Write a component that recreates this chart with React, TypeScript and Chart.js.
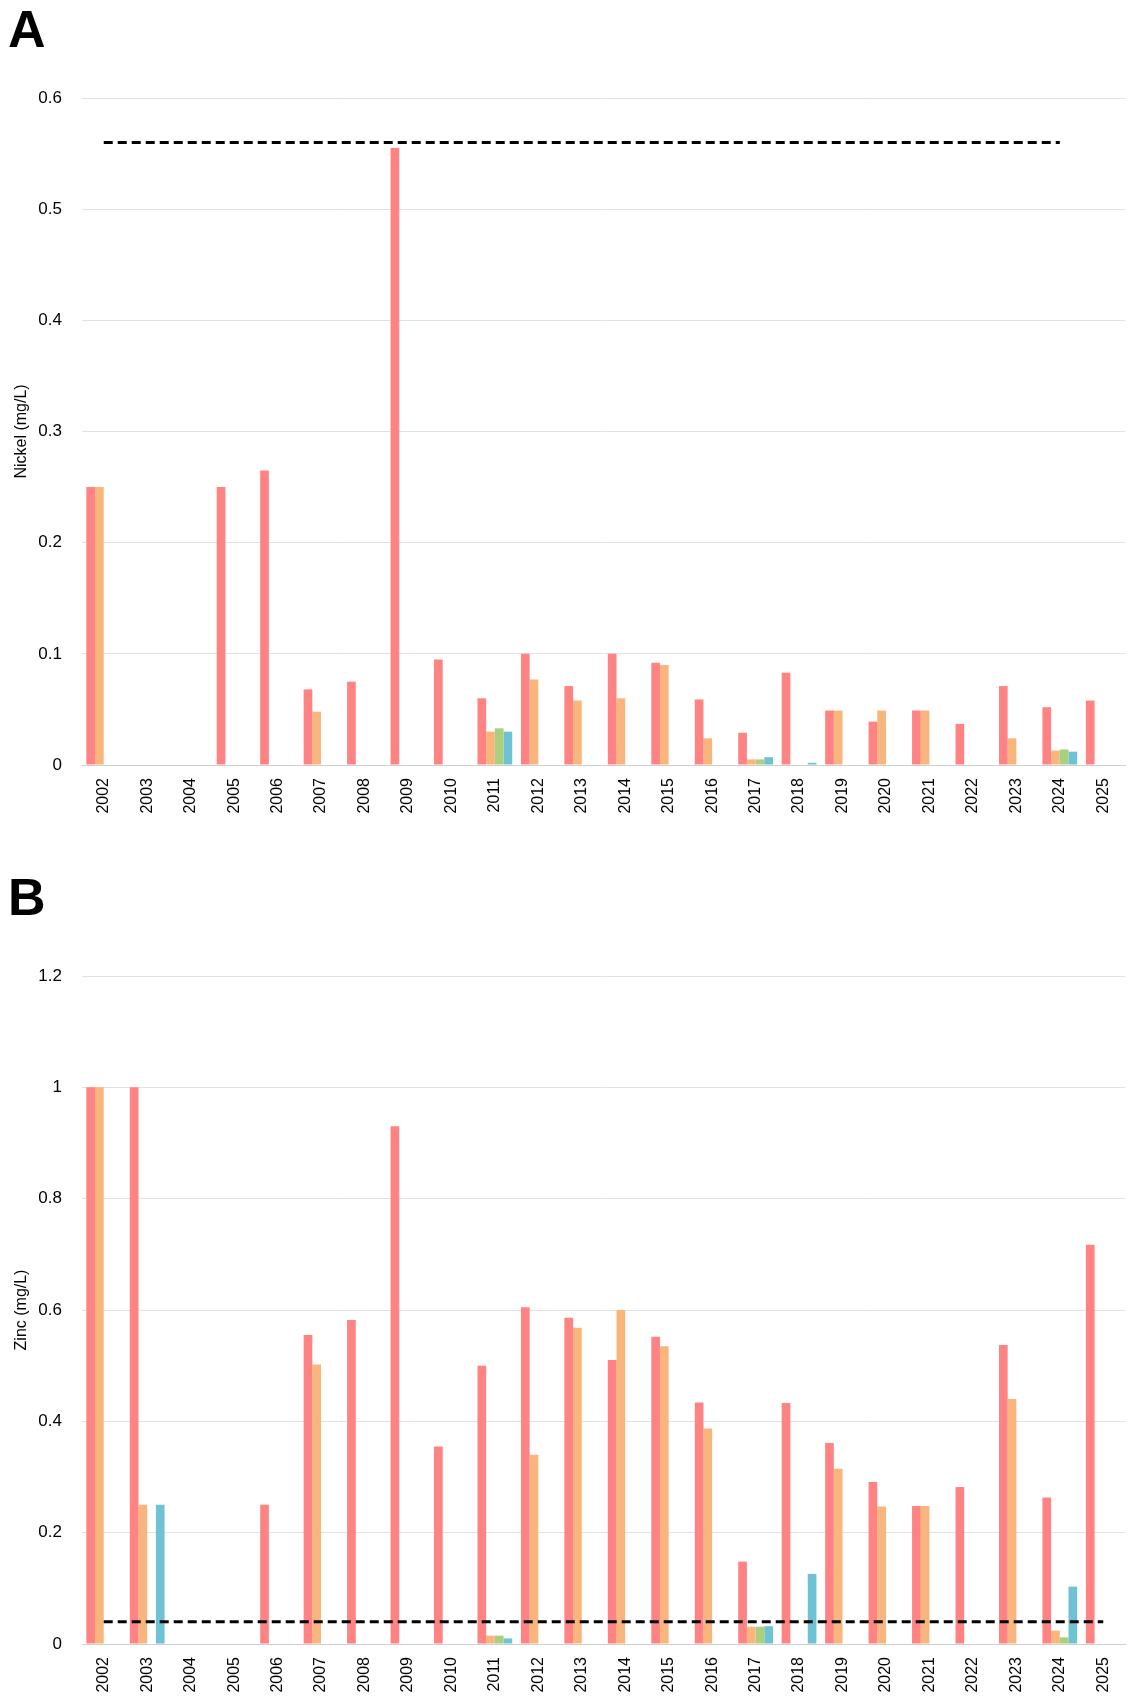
import React, { useEffect, useRef } from "react";
import { Chart, registerables } from "chart.js";

Chart.register(...registerables);

const years = [
  "2002", "2003", "2004", "2005", "2006", "2007", "2008", "2009", "2010", "2011", "2012", "2013",
  "2014", "2015", "2016", "2017", "2018", "2019", "2020", "2021", "2022", "2023", "2024", "2025",
];

// Panel A — Nickel (mg/L)
const nickelRed = [0.25, null, null, 0.25, 0.265, 0.068, 0.075, 0.555, 0.095, 0.06, 0.1, 0.071, 0.1, 0.092, 0.059, 0.029, 0.083, 0.049, 0.039, 0.049, 0.037, 0.071, 0.052, 0.058];
const nickelOrange = [0.25, null, null, null, null, 0.048, null, null, null, 0.03, 0.077, 0.058, 0.06, 0.09, 0.024, 0.005, null, 0.049, 0.049, 0.049, null, 0.024, 0.013, null];
const nickelGreen = [null, null, null, null, null, null, null, null, null, 0.033, null, null, null, null, null, 0.005, null, null, null, null, null, null, 0.014, null];
const nickelBlue = [null, null, null, null, null, null, null, null, null, 0.03, null, null, null, null, null, 0.007, 0.002, null, null, null, null, null, 0.012, null];
const nickelLimit = [0.56, 0.56, 0.56, 0.56, 0.56, 0.56, 0.56, 0.56, 0.56, 0.56, 0.56, 0.56, 0.56, 0.56, 0.56, 0.56, 0.56, 0.56, 0.56, 0.56, 0.56, 0.56, 0.56, null];

// Panel B — Zinc (mg/L)
const zincRed = [1.0, 1.0, null, null, 0.25, 0.555, 0.582, 0.93, 0.355, 0.5, 0.605, 0.586, 0.51, 0.552, 0.434, 0.148, 0.433, 0.361, 0.291, 0.248, 0.282, 0.537, 0.263, 0.717];
const zincOrange = [1.0, 0.25, null, null, null, 0.502, null, null, null, 0.015, 0.34, 0.568, 0.6, 0.535, 0.387, 0.031, null, 0.315, 0.247, 0.248, null, 0.44, 0.024, null];
const zincGreen = [null, null, null, null, null, null, null, null, null, 0.015, null, null, null, null, null, 0.031, null, null, null, null, null, null, 0.012, null];
const zincBlue = [null, 0.25, null, null, null, null, null, null, null, 0.01, null, null, null, null, null, 0.032, 0.126, null, null, null, null, null, 0.103, null];
const zincLimit = [0.04, 0.04, 0.04, 0.04, 0.04, 0.04, 0.04, 0.04, 0.04, 0.04, 0.04, 0.04, 0.04, 0.04, 0.04, 0.04, 0.04, 0.04, 0.04, 0.04, 0.04, 0.04, 0.04, 0.04];

const COLORS = ["#FF8383", "#F8B67C", "#A9D07F", "#6EC2D4"];
const FONT = "'Liberation Sans', Arial, Helvetica, sans-serif";

type PanelProps = {
  height: number;
  padTop: number;
  xHeight: number;
  yMax: number;
  yStep: number;
  yTitle: string;
  series: (number | null)[][];
  limit: (number | null)[];
};

function Panel({ height, padTop, xHeight, yMax, yStep, yTitle, series, limit }: PanelProps) {
  const ref = useRef<HTMLCanvasElement | null>(null);
  useEffect(() => {
    if (!ref.current) return;
    const datasets: any[] = [
      {
        type: "line",
        data: limit,
        borderColor: "#000",
        borderWidth: 3,
        borderDash: [9, 5],
        pointRadius: 0,
        fill: false,
        spanGaps: false,
        order: -1,
      },
      ...series.map((d, i) => ({
        type: "bar",
        data: d,
        backgroundColor: COLORS[i],
        borderWidth: 0,
        categoryPercentage: 0.8,
        barPercentage: 1.0,
        order: 1,
      })),
    ];
    const chart = new Chart(ref.current, {
      type: "bar",
      data: { labels: years, datasets },
      options: {
        animation: false,
        responsive: false,
        maintainAspectRatio: false,
        devicePixelRatio: 1,
        layout: { padding: { top: padTop, right: 3, left: 0, bottom: 0 } },
        plugins: { legend: { display: false }, tooltip: { enabled: false }, title: { display: false } },
        scales: {
          x: {
            offset: true,
            grid: { display: false, drawTicks: false },
            border: { display: true, color: "#cfcfcf", width: 1 },
            ticks: {
              autoSkip: false,
              maxRotation: 90,
              minRotation: 90,
              padding: 13,
              color: "#000",
              font: { family: FONT, size: 16 },
            },
            afterFit: (s: any) => {
              s.height = xHeight;
              s.paddingLeft = 0;
              s.paddingRight = 0;
            },
          },
          y: {
            min: 0,
            max: yMax,
            ticks: {
              stepSize: yStep,
              padding: 20,
              color: "#000",
              font: { family: FONT, size: 17 },
              callback: (v: any) => String(Math.round(Number(v) * 100) / 100),
            },
            grid: { color: "#e2e2e2", drawTicks: false, lineWidth: 1 },
            border: { display: false },
            title: {
              display: true,
              text: yTitle,
              color: "#000",
              font: { family: FONT, size: 16 },
              padding: { top: 12, bottom: 0 },
            },
            afterFit: (s: any) => {
              s.width = 82;
            },
          },
        },
      } as any,
    });
    return () => chart.destroy();
  }, []);
  return <canvas ref={ref} width={1128} height={height} style={{ display: "block", width: 1128, height }} />;
}

const letterStyle: React.CSSProperties = {
  position: "absolute",
  left: 8,
  fontFamily: FONT,
  fontWeight: "bold",
  fontSize: 52,
  lineHeight: 1,
  color: "#000",
};

export default function App() {
  return (
    <div style={{ position: "absolute", left: 0, top: 0, width: 1128, height: 1702, background: "#fff" }}>
      <div style={{ position: "absolute", left: 0, top: 0 }}>
        <Panel
          height={850}
          padTop={98}
          xHeight={85}
          yMax={0.6}
          yStep={0.1}
          yTitle="Nickel (mg/L)"
          series={[nickelRed, nickelOrange, nickelGreen, nickelBlue]}
          limit={nickelLimit}
        />
      </div>
      <div style={{ position: "absolute", left: 0, top: 850 }}>
        <Panel
          height={852}
          padTop={126}
          xHeight={58}
          yMax={1.2}
          yStep={0.2}
          yTitle="Zinc (mg/L)"
          series={[zincRed, zincOrange, zincGreen, zincBlue]}
          limit={zincLimit}
        />
      </div>
      <div style={{ ...letterStyle, top: 3 }}>A</div>
      <div style={{ ...letterStyle, top: 871 }}>B</div>
    </div>
  );
}
